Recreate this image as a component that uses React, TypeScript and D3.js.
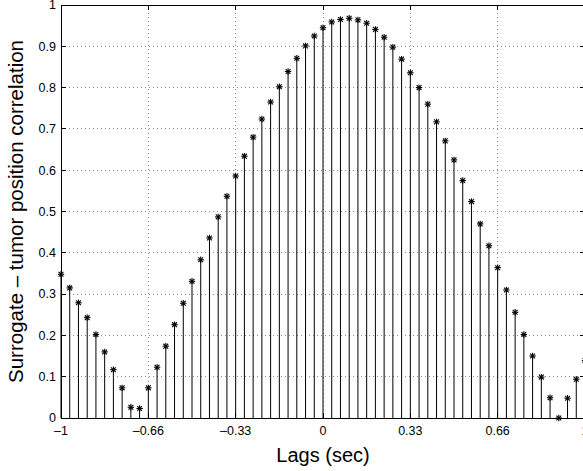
import React from "react";
import * as d3 from "d3";

// Cross-correlation values, one per lag sample (30 Hz, lags -1 s .. +1 s)
const sampleRate = 30;
const correlation = [
  0.348, 0.315, 0.279, 0.243, 0.202, 0.160, 0.117, 0.073, 0.026, 0.023,
  0.073, 0.123, 0.174, 0.226, 0.278, 0.331, 0.383, 0.436, 0.487, 0.537,
  0.586, 0.634, 0.680, 0.724, 0.765, 0.802, 0.839, 0.871, 0.901, 0.925,
  0.945, 0.959, 0.965, 0.968, 0.964, 0.956, 0.941, 0.922, 0.898, 0.869,
  0.836, 0.800, 0.760, 0.717, 0.671, 0.625, 0.575, 0.524, 0.470, 0.417,
  0.364, 0.310, 0.256, 0.202, 0.150, 0.099, 0.049, 0.000, 0.048, 0.094,
  0.139,
];
const lags = correlation.map((_, i) => (i - 30) / sampleRate);

const xTicks = [-1, -2 / 3, -1 / 3, 0, 1 / 3, 2 / 3, 1];
const xTickLabels = ["\u20131", "\u20130.66", "\u20130.33", "0", "0.33", "0.66", "1"];
const yTicks = [0, 0.1, 0.2, 0.3, 0.4, 0.5, 0.6, 0.7, 0.8, 0.9, 1];
const yTickLabels = ["0", "0.1", "0.2", "0.3", "0.4", "0.5", "0.6", "0.7", "0.8", "0.9", "1"];

const xLabel = "Lags (sec)";
const yLabel = "Surrogate \u2013 tumor position correlation";

export default function App() {
  const W = 583;
  const H = 471;
  const left = 61;
  const right = 585;
  const top = 5;
  const bottom = 418;
  const x = d3.scaleLinear().domain([-1, 1]).range([left, right]);
  const y = d3.scaleLinear().domain([0, 1]).range([bottom, top]);
  const font = "'Liberation Sans', Arial, Helvetica, sans-serif";
  const tickLen = 5;
  const s = 3.2;

  return (
    <svg
      width={W}
      height={H}
      style={{ position: "absolute", left: 0, top: 0, background: "#fff" }}
      fontFamily={font}
    >
      <rect x={0} y={0} width={W} height={H} fill="#fff" />
      {/* grid */}
      <g stroke="#8a8a8a" strokeWidth={1} strokeDasharray="1 3" shapeRendering="crispEdges">
        {xTicks.slice(1, -1).map((t, i) => (
          <line key={"gx" + i} x1={x(t)} x2={x(t)} y1={top} y2={bottom} />
        ))}
        {yTicks.slice(1, -1).map((t, i) => (
          <line key={"gy" + i} x1={left} x2={right} y1={y(t)} y2={y(t)} />
        ))}
      </g>
      {/* stems */}
      <g stroke="#000" strokeWidth={1}>
        {lags.map((l, i) => (
          <line key={"s" + i} x1={x(l)} x2={x(l)} y1={y(0)} y2={y(correlation[i])} />
        ))}
      </g>
      {/* frame & ticks */}
      <g stroke="#000" strokeWidth={1} fill="none" shapeRendering="crispEdges">
        <rect x={left} y={top} width={right - left} height={bottom - top} />
        {xTicks.map((t, i) => (
          <g key={"tx" + i}>
            <line x1={x(t)} x2={x(t)} y1={bottom} y2={bottom - tickLen} />
            <line x1={x(t)} x2={x(t)} y1={top} y2={top + tickLen} />
          </g>
        ))}
        {yTicks.map((t, i) => (
          <g key={"ty" + i}>
            <line x1={left} x2={left + tickLen} y1={y(t)} y2={y(t)} />
            <line x1={right} x2={right - tickLen} y1={y(t)} y2={y(t)} />
          </g>
        ))}
      </g>
      {/* markers */}
      <g stroke="#000" strokeWidth={1.1}>
        {lags.map((l, i) => {
          const cx = x(l);
          const cy = y(correlation[i]);
          return (
            <g key={"m" + i}>
              <line x1={cx - s} x2={cx + s} y1={cy} y2={cy} />
              <line x1={cx} x2={cx} y1={cy - s} y2={cy + s} />
              <line x1={cx - s * 0.75} x2={cx + s * 0.75} y1={cy - s * 0.75} y2={cy + s * 0.75} />
              <line x1={cx - s * 0.75} x2={cx + s * 0.75} y1={cy + s * 0.75} y2={cy - s * 0.75} />
            </g>
          );
        })}
      </g>
      {/* tick labels */}
      <g fontSize={12.5} fill="#000">
        {xTicks.map((t, i) => (
          <text key={"lx" + i} x={x(t)} y={435} textAnchor="middle">
            {xTickLabels[i]}
          </text>
        ))}
        {yTicks.map((t, i) => (
          <text key={"ly" + i} x={56} y={y(t)} dy="0.35em" textAnchor="end">
            {yTickLabels[i]}
          </text>
        ))}
      </g>
      {/* axis labels */}
      <text x={(left + right) / 2} y={462} textAnchor="middle" fontSize={20} fill="#000">
        {xLabel}
      </text>
      <text
        transform={`translate(23,${(top + bottom) / 2}) rotate(-90)`}
        textAnchor="middle"
        fontSize={20.5}
        fill="#000"
      >
        {yLabel}
      </text>
    </svg>
  );
}
